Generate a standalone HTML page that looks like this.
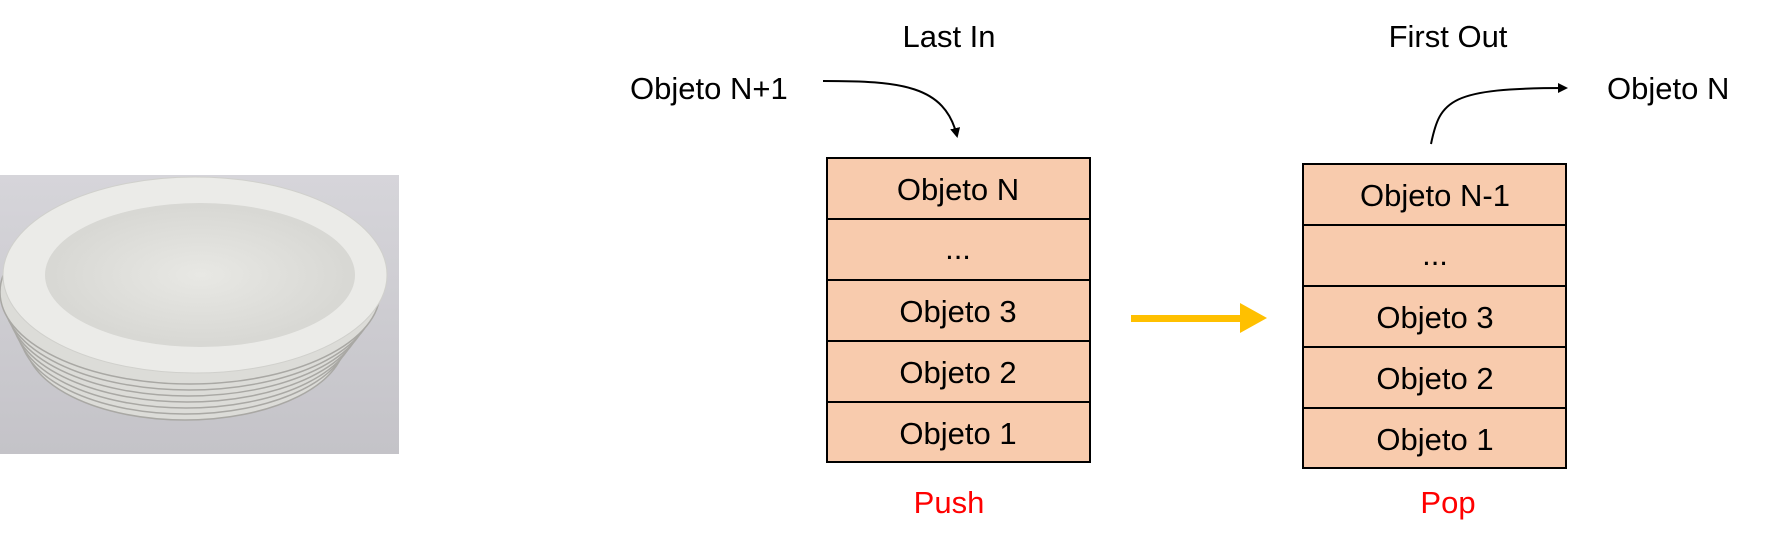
<!DOCTYPE html>
<html><head><meta charset="utf-8"><style>
html,body{margin:0;padding:0;background:#fff;width:1767px;height:547px;overflow:hidden}
svg text{font-family:"Liberation Sans",sans-serif;font-size:31px;fill:#000}
</style></head><body>
<svg width="1767" height="547" viewBox="0 0 1767 547" xmlns="http://www.w3.org/2000/svg">
<defs>
<linearGradient id="bg" x1="0" y1="0" x2="0" y2="1"><stop offset="0" stop-color="#d6d5da"/><stop offset="1" stop-color="#c4c3c8"/></linearGradient>
<radialGradient id="pl" cx="0.5" cy="0.5" r="0.6"><stop offset="0" stop-color="#e8e8e4"/><stop offset="1" stop-color="#d4d4d0"/></radialGradient>
<marker id="ah" markerWidth="10" markerHeight="10" refX="8" refY="5" orient="auto" markerUnits="userSpaceOnUse"><path d="M0,0 L10,5 L0,10 z" fill="#000"/></marker>
</defs>
<rect x="0" y="175" width="399" height="279" fill="url(#bg)"/>
<g fill="#dcdcd8" stroke="#a9a8a4" stroke-width="1.5">
<ellipse cx="185" cy="340" rx="160" ry="80"/>
<ellipse cx="185" cy="332" rx="165" ry="82"/>
<ellipse cx="186" cy="324" rx="170" ry="84"/>
<ellipse cx="187" cy="316" rx="175" ry="86"/>
<ellipse cx="188" cy="308" rx="180" ry="88"/>
<ellipse cx="189" cy="300" rx="185" ry="90"/>
<ellipse cx="190" cy="292" rx="190" ry="92"/>
</g>
<ellipse cx="195" cy="275" rx="192" ry="98" fill="#ebebe8" stroke="#d0d0cc"/>
<ellipse cx="200" cy="275" rx="155" ry="72" fill="url(#pl)"/>
<g fill="#f8cbad" stroke="#000" stroke-width="2">
<rect x="827" y="158" width="263" height="61"/><rect x="827" y="219" width="263" height="61"/><rect x="827" y="280" width="263" height="61"/><rect x="827" y="341" width="263" height="61"/><rect x="827" y="402" width="263" height="60"/>
<rect x="1303" y="164" width="263" height="61"/><rect x="1303" y="225" width="263" height="61"/><rect x="1303" y="286" width="263" height="61"/><rect x="1303" y="347" width="263" height="61"/><rect x="1303" y="408" width="263" height="60"/>
</g>
<g text-anchor="middle">
<text x="958" y="200">Objeto N</text><text x="958" y="259">...</text><text x="958" y="322">Objeto 3</text><text x="958" y="383">Objeto 2</text><text x="958" y="444">Objeto 1</text>
<text x="1435" y="206">Objeto N-1</text><text x="1435" y="265">...</text><text x="1435" y="328">Objeto 3</text><text x="1435" y="389">Objeto 2</text><text x="1435" y="450">Objeto 1</text>
<text x="949" y="47">Last In</text><text x="1448" y="47">First Out</text>
<text x="949" y="513" style="fill:#ff0000">Push</text><text x="1448" y="513" style="fill:#ff0000">Pop</text>
</g>
<text x="630" y="99">Objeto N+1</text>
<text x="1607" y="99">Objeto N</text>
<path d="M823,81 C900,81 945,85 957,136" fill="none" stroke="#000" stroke-width="2" marker-end="url(#ah)"/>
<path d="M1431,144 C1440,100 1450,88 1566,88" fill="none" stroke="#000" stroke-width="2" marker-end="url(#ah)"/>
<rect x="1131" y="315" width="112" height="7" fill="#ffc000"/>
<path d="M1240,303 L1267,318 L1240,333 z" fill="#ffc000"/>
</svg>
</body></html>
